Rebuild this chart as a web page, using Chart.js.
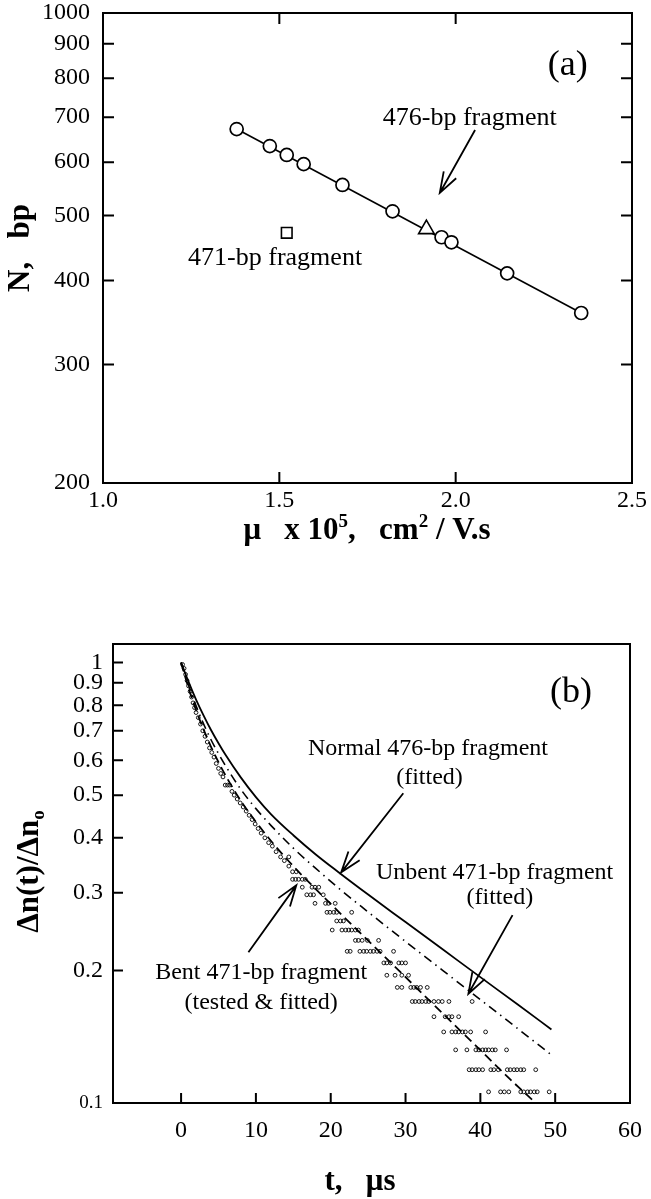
<!DOCTYPE html>
<html>
<head>
<meta charset="utf-8">
<script src="https://cdn.jsdelivr.net/npm/chart.js@4.4.1/dist/chart.umd.min.js"></script>
<style>
  html, body { margin: 0; padding: 0; background: #fff; }
  canvas { display: block; }
</style>
</head>
<body>
<canvas id="chartA" width="651" height="550"></canvas>
<canvas id="chartB" width="651" height="649"></canvas>
<script>
// ---- panel (a): N vs mobility ----
const muCircles = [1.379, 1.473, 1.521, 1.569, 1.679, 1.821, 1.960, 1.988, 2.146, 2.356];
const nCircles = [672, 634, 615, 596, 555, 507, 464, 456, 410, 358];
const muFit = [1.379, 2.356];
const nFit = [672, 358];
const mu476 = [1.917];
const n476 = [477];
const mu471 = [1.521];
const n471 = [471];
const muTicks = [1.0, 1.5, 2.0, 2.5];
const nTicks = [200, 300, 400, 500, 600, 700, 800, 900, 1000];

// ---- panel (b): decay curves ----
const normT = [0, 1, 2, 3, 4, 5, 6, 8, 10, 12, 15, 18, 21, 25, 30, 35, 40, 45, 49.5];
const normV = [1.0, 0.904, 0.824, 0.759, 0.703, 0.656, 0.615, 0.548, 0.495, 0.453, 0.4055, 0.3667, 0.3346, 0.2973, 0.2575, 0.223, 0.1931, 0.1673, 0.1469];
const unbentT = [0, 1, 2, 3, 4, 5, 6, 8, 10, 12, 15, 18, 21, 25, 30, 35, 40, 45, 49.8];
const unbentV = [1.0, 0.887, 0.798, 0.726, 0.668, 0.621, 0.581, 0.515, 0.466, 0.427, 0.379, 0.341, 0.308, 0.2715, 0.2326, 0.1998, 0.1717, 0.1475, 0.1274];
const bentT = [0, 1, 2, 3, 4, 5, 6, 8, 10, 12, 14, 16, 18, 21, 25, 30, 35, 40, 44, 47.4];
const bentV = [1.0, 0.875, 0.78, 0.705, 0.644, 0.594, 0.552, 0.485, 0.435, 0.394, 0.36, 0.331, 0.306, 0.2724, 0.2337, 0.1931, 0.1595, 0.1318, 0.1131, 0.1];
// measured points (bent 471-bp)
const measT = [0.2, 0.4, 0.6, 0.8, 1.0, 1.2, 1.4, 1.6, 1.8, 2.0, 2.3, 2.6, 2.9, 3.2, 3.5, 3.8, 4.1, 4.4, 4.7, 5.0,
  5.3, 5.6, 5.9, 6.2, 6.5, 6.8, 7.1, 7.5, 7.9, 8.3, 8.7, 9.1, 9.5, 9.9, 10.3, 10.7, 11.2, 11.7, 12.2, 12.7,
  13.3, 13.8, 14.4, 14.4, 14.9, 15.4, 14.9, 15.3, 15.7, 16.2, 16.6,
  16.2, 17.5, 17.9, 18.4, 16.8, 17.3, 17.7, 19.0, 17.9, 19.3, 19.7, 20.6, 19.5, 19.9, 20.4, 20.8, 22.8,
  20.8, 21.3, 21.7, 20.2, 21.5, 22.0, 22.4, 22.8, 23.3, 23.7, 23.3, 23.7, 24.2, 24.9, 26.4,
  22.2, 22.6, 23.9, 24.4, 24.8, 25.3, 25.7, 26.2, 26.6, 28.4, 27.1, 27.5, 28.0, 29.1, 29.5, 30.0,
  27.5, 28.6, 29.5, 30.4, 28.9, 29.5, 30.7, 31.1, 31.5, 32.0, 32.9,
  30.9, 31.3, 31.8, 32.2, 32.7, 33.1, 33.8, 34.4, 34.9, 35.8, 38.9, 33.8, 35.3, 35.8, 36.2, 37.1,
  35.1, 36.2, 36.7, 37.1, 37.6, 38.0, 38.7, 40.7, 36.7, 38.2, 39.4, 39.8, 40.3, 40.7, 41.1, 41.6, 42.0, 43.5,
  38.5, 38.9, 39.4, 39.8, 40.3, 41.4, 41.8, 42.4, 43.6, 44.0, 44.5, 44.9, 45.4, 45.8, 47.4,
  41.1, 42.7, 43.2, 43.8, 45.4, 45.8, 46.3, 46.7, 47.2, 47.6, 49.2];
const measV = [0.99, 0.97, 0.94, 0.91, 0.885, 0.86, 0.835, 0.81, 0.79, 0.77, 0.75, 0.725, 0.70, 0.68, 0.66, 0.64, 0.625, 0.61, 0.59, 0.575,
  0.56, 0.55, 0.527, 0.527, 0.527, 0.51, 0.50, 0.49, 0.48, 0.47, 0.46, 0.45, 0.44, 0.43, 0.42, 0.41, 0.40, 0.39, 0.383, 0.372,
  0.362, 0.355, 0.362, 0.345, 0.335, 0.335, 0.322, 0.322, 0.322, 0.322, 0.322,
  0.309, 0.309, 0.309, 0.309, 0.297, 0.297, 0.297, 0.297, 0.284, 0.284, 0.284, 0.284, 0.271, 0.271, 0.271, 0.271, 0.271,
  0.259, 0.259, 0.259, 0.247, 0.247, 0.247, 0.247, 0.247, 0.247, 0.247, 0.234, 0.234, 0.234, 0.234, 0.234,
  0.221, 0.221, 0.221, 0.221, 0.221, 0.221, 0.221, 0.221, 0.221, 0.221, 0.208, 0.208, 0.208, 0.208, 0.208, 0.208,
  0.195, 0.195, 0.195, 0.195, 0.183, 0.183, 0.183, 0.183, 0.183, 0.183, 0.183,
  0.170, 0.170, 0.170, 0.170, 0.170, 0.170, 0.170, 0.170, 0.170, 0.170, 0.170, 0.157, 0.157, 0.157, 0.157, 0.157,
  0.145, 0.145, 0.145, 0.145, 0.145, 0.145, 0.145, 0.145, 0.132, 0.132, 0.132, 0.132, 0.132, 0.132, 0.132, 0.132, 0.132, 0.132,
  0.119, 0.119, 0.119, 0.119, 0.119, 0.119, 0.119, 0.119, 0.119, 0.119, 0.119, 0.119, 0.119, 0.119, 0.119,
  0.106, 0.106, 0.106, 0.106, 0.106, 0.106, 0.106, 0.106, 0.106, 0.106, 0.106];
const tTicks = [0, 10, 20, 30, 40, 50, 60];
const vTicks = [0.1, 0.2, 0.3, 0.4, 0.5, 0.6, 0.7, 0.8, 0.9, 1.0];

const SERIF = '"Liberation Serif", "Times New Roman", serif';

const pts = (xs, ys) => xs.map((x, i) => ({ x: x, y: ys[i] }));

// draws text made of normal / superscript / subscript pieces, centred on (cx, cy)
function drawRich(ctx, parts, cx, cy, size, rotated) {
  ctx.save();
  ctx.translate(cx, cy);
  if (rotated) ctx.rotate(-Math.PI / 2);
  const fontFor = p => 'bold ' + (p.sup || p.sub ? Math.round(size * 0.62) : size) + 'px ' + SERIF;
  let total = 0;
  parts.forEach(p => { ctx.font = fontFor(p); total += ctx.measureText(p.t).width; });
  let x = -total / 2;
  ctx.fillStyle = '#000';
  ctx.textAlign = 'left';
  ctx.textBaseline = 'alphabetic';
  parts.forEach(p => {
    ctx.font = fontFor(p);
    let dy = size * 0.33;
    if (p.sup) dy -= size * 0.38;
    if (p.sub) dy += size * 0.2;
    ctx.fillText(p.t, x, dy);
    x += ctx.measureText(p.t).width;
  });
  ctx.restore();
}

// box, inward ticks, notes, arrows and axis titles
const framePlugin = {
  id: 'frame',
  afterDatasetsDraw(chart, args, opts) {
    const { ctx, chartArea: a, scales } = chart;
    const xs = scales.x, ys = scales.y;
    const L = opts.tickLen || 10;
    ctx.save();
    ctx.strokeStyle = '#000';
    ctx.lineWidth = 2;
    ctx.strokeRect(a.left, a.top, a.right - a.left, a.bottom - a.top);
    ctx.beginPath();
    (opts.left || []).forEach(v => { const y = ys.getPixelForValue(v); ctx.moveTo(a.left, y); ctx.lineTo(a.left + L, y); });
    (opts.right || []).forEach(v => { const y = ys.getPixelForValue(v); ctx.moveTo(a.right, y); ctx.lineTo(a.right - L, y); });
    (opts.bottom || []).forEach(v => { const x = xs.getPixelForValue(v); ctx.moveTo(x, a.bottom); ctx.lineTo(x, a.bottom - L); });
    (opts.top || []).forEach(v => { const x = xs.getPixelForValue(v); ctx.moveTo(x, a.top); ctx.lineTo(x, a.top + L); });
    ctx.stroke();

    ctx.fillStyle = '#000';
    ctx.textAlign = 'center';
    ctx.textBaseline = 'middle';
    (opts.notes || []).forEach(n => {
      ctx.font = n.size + 'px ' + SERIF;
      ctx.fillText(n.text, xs.getPixelForValue(n.x), ys.getPixelForValue(n.y));
    });

    ctx.lineWidth = 1.8;
    (opts.arrows || []).forEach(ar => {
      const x1 = xs.getPixelForValue(ar.from[0]), y1 = ys.getPixelForValue(ar.from[1]);
      const x2 = xs.getPixelForValue(ar.to[0]), y2 = ys.getPixelForValue(ar.to[1]);
      const ang = Math.atan2(y2 - y1, x2 - x1);
      const h = 22, w = 0.33;
      ctx.beginPath();
      ctx.moveTo(x1, y1);
      ctx.lineTo(x2, y2);
      ctx.moveTo(x2 - h * Math.cos(ang - w), y2 - h * Math.sin(ang - w));
      ctx.lineTo(x2, y2);
      ctx.lineTo(x2 - h * Math.cos(ang + w), y2 - h * Math.sin(ang + w));
      ctx.stroke();
    });

    if (opts.xTitle) {
      const t = opts.xTitle;
      drawRich(ctx, t.parts, t.cx, a.bottom + t.dy, t.size, false);
    }
    if (opts.yTitle) {
      const t = opts.yTitle;
      drawRich(ctx, t.parts, t.cx, (a.top + a.bottom) / 2 + (t.dy || 0), t.size, true);
    }
    ctx.restore();
  }
};

// tick label gap comes from an invisible tick mark length, so it does not pad the chart area
const tickFont = { family: SERIF, size: 24, lineHeight: 1.05 };

// ---------- chart (a) ----------
new Chart(document.getElementById('chartA'), {
  type: 'scatter',
  data: {
    datasets: [
      {
        data: pts(muCircles, nCircles),
        pointStyle: 'circle', pointRadius: 6.5, borderWidth: 1.7,
        borderColor: '#000', backgroundColor: '#fff'
      },
      {
        data: pts(mu476, n476),
        pointStyle: 'triangle', pointRadius: 9, borderWidth: 1.6,
        borderColor: '#000', backgroundColor: '#fff'
      },
      {
        data: pts(mu471, n471),
        pointStyle: 'rect', pointRadius: 7.5, borderWidth: 1.6,
        borderColor: '#000', backgroundColor: '#fff'
      },
      {
        data: pts(muFit, nFit),
        showLine: true, pointRadius: 0, borderColor: '#000', borderWidth: 1.6
      }
    ]
  },
  options: {
    responsive: false,
    animation: false,
    layout: { padding: { top: 13, right: 19, left: 0, bottom: 0 } },
    plugins: {
      legend: { display: false },
      tooltip: { enabled: false },
      frame: {
        tickLen: 11,
        left: [300, 400, 500, 600, 700, 800, 900],
        right: [300, 400, 500, 600, 700, 800, 900],
        bottom: [1.5, 2.0],
        top: [1.5, 2.0],
        notes: [
          { text: '(a)', x: 2.318, y: 834, size: 36 },
          { text: '476-bp fragment', x: 2.04, y: 698, size: 26 },
          { text: '471-bp fragment', x: 1.488, y: 432, size: 26 }
        ],
        arrows: [{ from: [2.055, 670], to: [1.955, 540] }],
        xTitle: {
          cx: 367, dy: 46, size: 31,
          parts: [{ t: 'μ   x 10' }, { t: '5', sup: true }, { t: ',   cm' }, { t: '2', sup: true }, { t: ' / V.s' }]
        },
        yTitle: { cx: 19, size: 31, parts: [{ t: 'N,   bp' }] }
      }
    },
    scales: {
      x: {
        type: 'linear', min: 1.0, max: 2.5,
        afterBuildTicks: s => { s.ticks = muTicks.map(v => ({ value: v })); },
        afterFit: s => { s.height = 67; },
        grid: { display: false, drawTicks: true, tickLength: 5 },
        border: { display: false },
        ticks: { font: tickFont, color: '#000', padding: 0, maxRotation: 0, callback: v => Number(v).toFixed(1) }
      },
      y: {
        type: 'logarithmic', min: 200, max: 1000,
        afterBuildTicks: s => { s.ticks = nTicks.map(v => ({ value: v })); },
        afterFit: s => { s.width = 103; },
        grid: { display: false, drawTicks: true, tickLength: 13 },
        border: { display: false },
        ticks: { font: tickFont, color: '#000', padding: 0, callback: v => String(v) }
      }
    }
  },
  plugins: [framePlugin]
});

// ---------- chart (b) ----------
new Chart(document.getElementById('chartB'), {
  type: 'scatter',
  data: {
    datasets: [
      {
        data: pts(measT, measV),
        pointStyle: 'circle', pointRadius: 1.9, borderWidth: 0.9,
        borderColor: '#000', backgroundColor: 'rgba(0,0,0,0)'
      },
      {
        data: pts(normT, normV),
        showLine: true, pointRadius: 0, borderColor: '#000', borderWidth: 1.8,
        cubicInterpolationMode: 'monotone'
      },
      {
        data: pts(unbentT, unbentV),
        showLine: true, pointRadius: 0, borderColor: '#000', borderWidth: 1.6,
        borderDash: [9, 5, 1.5, 5], cubicInterpolationMode: 'monotone'
      },
      {
        data: pts(bentT, bentV),
        showLine: true, pointRadius: 0, borderColor: '#000', borderWidth: 1.8,
        borderDash: [9, 5], cubicInterpolationMode: 'monotone'
      }
    ]
  },
  options: {
    responsive: false,
    animation: false,
    layout: { padding: { top: 94, right: 21, left: 0, bottom: 0 } },
    plugins: {
      legend: { display: false },
      tooltip: { enabled: false },
      frame: {
        tickLen: 10,
        left: [0.2, 0.3, 0.4, 0.5, 0.6, 0.7, 0.8, 0.9, 1.0],
        bottom: [0, 10, 20, 30, 40, 50],
        notes: [
          { text: '(b)', x: 52.1, y: 0.857, size: 36 },
          { text: 'Normal 476-bp fragment', x: 33.0, y: 0.636, size: 24 },
          { text: '(fitted)', x: 33.2, y: 0.549, size: 24 },
          { text: 'Unbent 471-bp fragment', x: 41.9, y: 0.334, size: 24 },
          { text: '(fitted)', x: 42.6, y: 0.292, size: 24 },
          { text: 'Bent 471-bp fragment', x: 10.7, y: 0.198, size: 24 },
          { text: '(tested & fitted)', x: 10.7, y: 0.169, size: 24 }
        ],
        arrows: [
          { from: [29.7, 0.505], to: [21.4, 0.334] },
          { from: [44.3, 0.267], to: [38.4, 0.177] },
          { from: [9.0, 0.22], to: [15.4, 0.312] }
        ],
        xTitle: { cx: 360, dy: 77, size: 31, parts: [{ t: 't,   μs' }] },
        yTitle: {
          cx: 28, size: 31, dy: -2,
          parts: [{ t: 'Δn(t)/Δn' }, { t: 'o', sub: true }]
        }
      }
    },
    scales: {
      x: {
        type: 'linear', min: -9.1, max: 60,
        afterBuildTicks: s => { s.ticks = tTicks.map(v => ({ value: v })); },
        afterFit: s => { s.height = 96; },
        grid: { display: false, drawTicks: true, tickLength: 15 },
        border: { display: false },
        ticks: { font: tickFont, color: '#000', padding: 0, maxRotation: 0, callback: v => String(v) }
      },
      y: {
        type: 'logarithmic', min: 0.1, max: 1.102,
        afterBuildTicks: s => { s.ticks = vTicks.map(v => ({ value: v })); },
        afterFit: s => { s.width = 113; },
        grid: { display: false, drawTicks: true, tickLength: 10 },
        border: { display: false },
        ticks: {
          color: '#000', padding: 0,
          font: c => ({ family: SERIF, lineHeight: 1.05, size: (c.tick && c.tick.value < 0.15) ? 19 : 24 }),
          callback: v => (v >= 0.99 ? '1' : Number(v).toFixed(1))
        }
      }
    }
  },
  plugins: [framePlugin]
});
</script>
</body>
</html>
